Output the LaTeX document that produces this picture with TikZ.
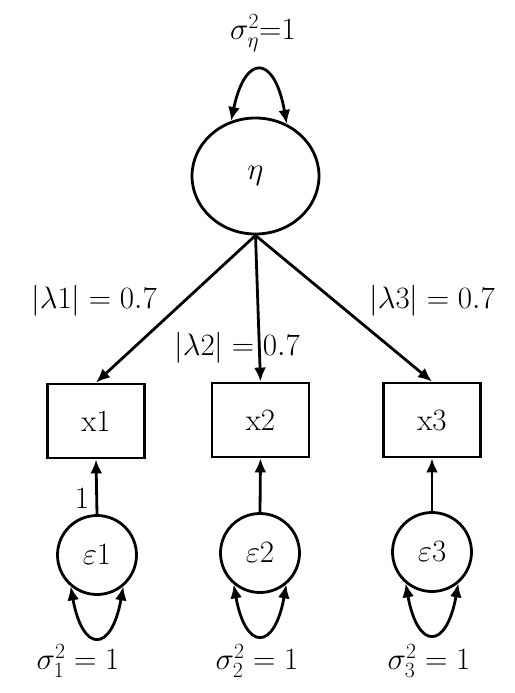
\RequirePackage{fix-cm}
\documentclass[tikz,border=0pt]{standalone}
\usetikzlibrary{arrows.meta,shapes.geometric}
\begin{document}
\begin{tikzpicture}[x=1pt,y=-1pt, line width=2.8pt,
  every node/.style={font=\fontsize{31}{37}\selectfont},
  latent/.style={draw, ellipse, minimum width=127pt, minimum height=116pt, inner sep=0pt},
  errc/.style={draw, circle, minimum size=79pt, inner sep=0pt},
  obs/.style={draw, rectangle, minimum width=97pt, minimum height=74pt, inner sep=0pt},
  arr/.style={-{Latex[length=14pt,width=12pt]}},
  dbl/.style={{Latex[length=14pt,width=12pt]}-{Latex[length=14pt,width=12pt]}},
  lbl/.style={inner sep=0pt}]
\useasboundingbox (0,0) rectangle (514,693);
% nodes
\node[latent] (eta) at (255.5,176) {$\eta$};
\node[obs] (x1) at (96,421) {x1};
\node[obs] (x2) at (260.5,420) {x2};
\node[obs] (x3) at (432,420) {x3};
\node[errc] (e1) at (97,555) {$\varepsilon1$};
\node[errc] (e2) at (260,553) {$\varepsilon2$};
\node[errc] (e3) at (432,552) {$\varepsilon3$};
% labels
\node[lbl] (veta) at (263,33) {$\sigma_\eta^2{=}1$};
\node[lbl] (l1) at (94,301) {$|\lambda1|=0.7$};
\node[lbl] (l2) at (237,348) {$|\lambda2|=0.7$};
\node[lbl] (l3) at (432,301) {$|\lambda3|=0.7$};
\node[lbl] (one) at (82,498) {1};
\node[lbl] (v1) at (78,661) {$\sigma_1^2=1$};
\node[lbl] (v2) at (257,661) {$\sigma_2^2=1$};
\node[lbl] (v3) at (429,661) {$\sigma_3^2=1$};
% connectors
\draw[arr] (eta.south) -- (x1.north);
\draw[arr] (eta.south) -- (x2.north);
\draw[arr] (eta.south) -- (x3.north);
\draw[arr] (e1.north) -- (x1.south);
\draw[arr] (e2.north) -- (x2.south);
\draw[arr] (e3.north) -- (x3.south);
\draw[dbl] (eta.114) .. controls +(-78:70) and +(-100:70) .. (eta.59);
\draw[dbl] (e1.230) .. controls +(80:68) and +(100:68) .. (e1.310);
\draw[dbl] (e2.230) .. controls +(80:68) and +(100:68) .. (e2.310);
\draw[dbl] (e3.230) .. controls +(80:68) and +(100:68) .. (e3.310);
\end{tikzpicture}
\end{document}
